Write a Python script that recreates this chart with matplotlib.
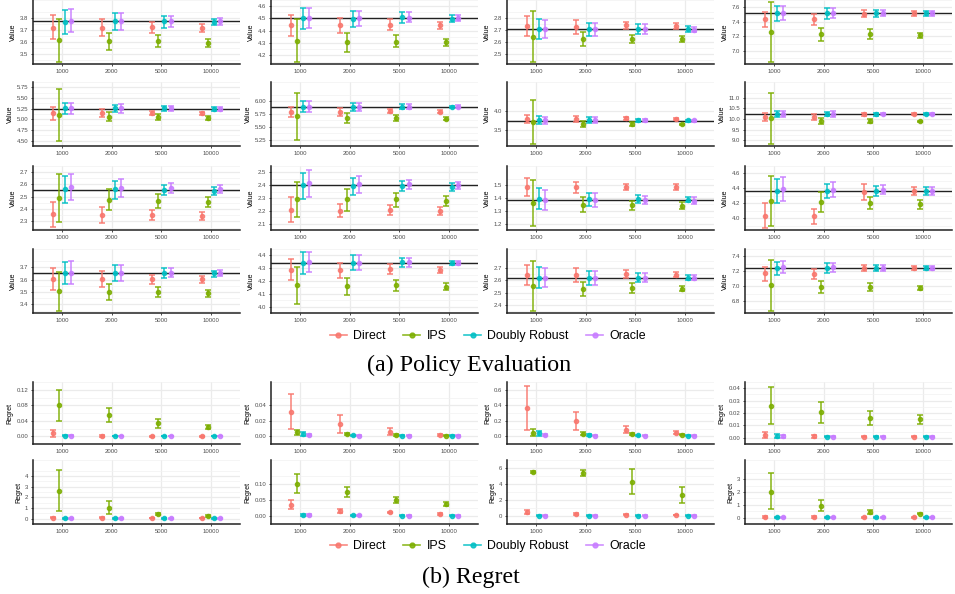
import numpy as np
import matplotlib
matplotlib.use("Agg")
import matplotlib.pyplot as plt
from matplotlib.lines import Line2D

plt.rcParams['font.family'] = ['Liberation Sans', 'DejaVu Sans']

# ---- data ----
sizes = ["1000", "2000", "5000", "10000"]
methods = ["Direct", "IPS", "Doubly Robust", "Oracle"]
colors = ["#F8766D", "#7CAE00", "#00BFC4", "#C77CFF"]

# (a) policy evaluation: true value per panel
true_values = [3.775, 4.5, 2.707, 7.516, 5.236, 5.895, 3.74, 10.23,
               2.554, 2.4, 1.384, 4.36, 3.653, 4.339, 2.62, 7.249]

# per panel: [Direct, IPS, DR, Oracle] x sizes
eval_mean = [
    [[3.722, 3.722, 3.727, 3.715], [3.617, 3.61, 3.61, 3.598], [3.77, 3.776, 3.776, 3.77], [3.776, 3.776, 3.776, 3.776]],
    [[4.45, 4.443, 4.45, 4.445], [4.32, 4.305, 4.31, 4.305], [4.5, 4.495, 4.508, 4.495], [4.505, 4.5, 4.505, 4.5]],
    [[2.731, 2.729, 2.74, 2.731], [2.645, 2.629, 2.629, 2.624], [2.707, 2.707, 2.712, 2.707], [2.707, 2.707, 2.707, 2.702]],
    [[7.437, 7.437, 7.507, 7.516], [7.26, 7.228, 7.228, 7.218], [7.516, 7.516, 7.516, 7.516], [7.516, 7.516, 7.516, 7.516]],
    [[5.153, 5.153, 5.153, 5.146], [5.11, 5.06, 5.05, 5.03], [5.257, 5.257, 5.257, 5.25], [5.257, 5.257, 5.257, 5.25]],
    [[5.79, 5.79, 5.80, 5.79], [5.707, 5.67, 5.67, 5.66], [5.895, 5.895, 5.895, 5.89], [5.895, 5.895, 5.895, 5.895]],
    [[3.792, 3.78, 3.805, 3.792], [3.708, 3.65, 3.65, 3.643], [3.747, 3.747, 3.747, 3.747], [3.747, 3.747, 3.747, 3.747]],
    [[10.095, 10.095, 10.23, 10.23], [10.03, 9.905, 9.905, 9.89], [10.23, 10.23, 10.23, 10.23], [10.24, 10.24, 10.24, 10.24]],
    [[2.358, 2.354, 2.354, 2.346], [2.488, 2.476, 2.468, 2.456], [2.561, 2.561, 2.556, 2.544], [2.58, 2.568, 2.568, 2.561]],
    [[2.209, 2.202, 2.205, 2.198], [2.289, 2.289, 2.289, 2.277], [2.4, 2.395, 2.395, 2.386], [2.414, 2.407, 2.407, 2.4]],
    [[1.489, 1.485, 1.489, 1.485], [1.363, 1.348, 1.344, 1.337], [1.394, 1.39, 1.39, 1.386], [1.386, 1.384, 1.384, 1.38]],
    [[4.032, 4.025, 4.349, 4.368], [4.23, 4.218, 4.202, 4.19], [4.36, 4.36, 4.36, 4.36], [4.396, 4.38, 4.38, 4.368]],
    [[3.607, 3.607, 3.603, 3.603], [3.508, 3.501, 3.501, 3.49], [3.655, 3.655, 3.655, 3.653], [3.659, 3.659, 3.659, 3.655]],
    [[4.288, 4.283, 4.293, 4.288], [4.171, 4.159, 4.166, 4.155], [4.342, 4.342, 4.346, 4.342], [4.346, 4.342, 4.346, 4.342]],
    [[2.645, 2.643, 2.65, 2.645], [2.552, 2.532, 2.536, 2.532], [2.62, 2.62, 2.62, 2.62], [2.62, 2.62, 2.62, 2.616]],
    [[7.175, 7.163, 7.249, 7.249], [7.016, 6.988, 6.988, 6.981], [7.249, 7.249, 7.249, 7.249], [7.261, 7.261, 7.249, 7.249]],
]
eval_lo = [
    [[3.63, 3.654, 3.68, 3.685], [3.44, 3.536, 3.56, 3.563], [3.67, 3.70, 3.722, 3.746], [3.683, 3.70, 3.727, 3.746]],
    [[4.36, 4.38, 4.408, 4.418], [4.145, 4.23, 4.268, 4.275], [4.413, 4.433, 4.463, 4.47], [4.425, 4.438, 4.47, 4.48]],
    [[2.648, 2.671, 2.707, 2.707], [2.433, 2.569, 2.593, 2.60], [2.624, 2.648, 2.671, 2.683], [2.633, 2.648, 2.671, 2.681]],
    [[7.33, 7.358, 7.46, 7.484], [6.846, 7.135, 7.158, 7.18], [7.414, 7.437, 7.47, 7.484], [7.428, 7.446, 7.474, 7.484]],
    [[4.993, 5.05, 5.1, 5.11], [4.49, 4.958, 4.98, 4.993], [5.132, 5.167, 5.188, 5.2], [5.118, 5.153, 5.188, 5.2]],
    [[5.686, 5.707, 5.76, 5.764], [5.25, 5.576, 5.607, 5.628], [5.785, 5.817, 5.853, 5.864], [5.79, 5.817, 5.843, 5.87]],
    [[3.68, 3.708, 3.76, 3.77], [3.13, 3.565, 3.61, 3.617], [3.643, 3.675, 3.708, 3.714], [3.65, 3.675, 3.708, 3.714]],
    [[9.905, 9.96, 10.16, 10.18], [8.82, 9.76, 9.82, 9.84], [10.095, 10.135, 10.16, 10.18], [10.095, 10.11, 10.18, 10.2]],
    [[2.251, 2.288, 2.312, 2.312], [2.293, 2.39, 2.41, 2.415], [2.451, 2.483, 2.517, 2.512], [2.471, 2.495, 2.532, 2.529]],
    [[2.114, 2.148, 2.17, 2.17], [2.148, 2.202, 2.227, 2.239], [2.293, 2.327, 2.357, 2.357], [2.311, 2.341, 2.373, 2.373]],
    [[1.418, 1.439, 1.464, 1.464], [1.185, 1.289, 1.31, 1.312], [1.312, 1.337, 1.358, 1.365], [1.31, 1.33, 1.354, 1.354]],
    [[3.866, 3.926, 4.238, 4.317], [3.894, 4.084, 4.119, 4.123], [4.198, 4.27, 4.297, 4.309], [4.23, 4.277, 4.329, 4.317]],
    [[3.517, 3.542, 3.565, 3.574], [3.35, 3.434, 3.461, 3.463], [3.562, 3.592, 3.614, 3.626], [3.569, 3.592, 3.619, 3.63]],
    [[4.211, 4.225, 4.253, 4.26], [4.019, 4.089, 4.12, 4.129], [4.253, 4.283, 4.307, 4.323], [4.269, 4.283, 4.311, 4.323]],
    [[2.564, 2.586, 2.62, 2.623], [2.35, 2.475, 2.498, 2.509], [2.536, 2.564, 2.586, 2.598], [2.541, 2.564, 2.582, 2.598]],
    [[7.078, 7.097, 7.21, 7.222], [6.669, 6.91, 6.938, 6.949], [7.156, 7.183, 7.21, 7.222], [7.175, 7.195, 7.21, 7.222]],
]
eval_hi = [
    [[3.824, 3.795, 3.77, 3.75], [3.79, 3.68, 3.66, 3.63], [3.866, 3.84, 3.82, 3.795], [3.873, 3.844, 3.82, 3.80]],
    [[4.53, 4.50, 4.493, 4.475], [4.493, 4.38, 4.363, 4.333], [4.588, 4.56, 4.55, 4.525], [4.588, 4.563, 4.55, 4.525]],
    [[2.814, 2.783, 2.771, 2.76], [2.855, 2.681, 2.664, 2.648], [2.795, 2.76, 2.752, 2.731], [2.783, 2.76, 2.748, 2.729]],
    [[7.53, 7.507, 7.563, 7.544], [7.67, 7.32, 7.298, 7.25], [7.614, 7.59, 7.567, 7.544], [7.623, 7.59, 7.567, 7.544]],
    [[5.285, 5.236, 5.2, 5.18], [5.72, 5.167, 5.118, 5.076], [5.375, 5.34, 5.32, 5.285], [5.39, 5.354, 5.306, 5.285]],
    [[5.895, 5.864, 5.853, 5.827], [6.167, 5.76, 5.738, 5.696], [6.0, 5.969, 5.948, 5.916], [6.01, 5.969, 5.942, 5.92]],
    [[3.89, 3.857, 3.838, 3.81], [4.28, 3.74, 3.695, 3.66], [3.857, 3.825, 3.79, 3.77], [3.844, 3.825, 3.79, 3.77]],
    [[10.3, 10.23, 10.3, 10.27], [11.24, 10.07, 10.0, 9.93], [10.38, 10.34, 10.3, 10.27], [10.4, 10.36, 10.3, 10.27]],
    [[2.458, 2.42, 2.395, 2.378], [2.683, 2.56, 2.524, 2.495], [2.666, 2.627, 2.593, 2.58], [2.683, 2.646, 2.61, 2.598]],
    [[2.305, 2.255, 2.243, 2.227], [2.425, 2.373, 2.34, 2.316], [2.498, 2.459, 2.432, 2.418], [2.516, 2.47, 2.443, 2.425]],
    [[1.559, 1.527, 1.513, 1.506], [1.538, 1.405, 1.375, 1.365], [1.475, 1.439, 1.42, 1.411], [1.464, 1.437, 1.415, 1.405]],
    [[4.198, 4.123, 4.455, 4.42], [4.566, 4.349, 4.289, 4.242], [4.526, 4.455, 4.428, 4.42], [4.554, 4.487, 4.44, 4.42]],
    [[3.698, 3.671, 3.641, 3.63], [3.664, 3.569, 3.542, 3.519], [3.743, 3.716, 3.693, 3.675], [3.75, 3.72, 3.693, 3.677]],
    [[4.374, 4.342, 4.335, 4.311], [4.311, 4.225, 4.211, 4.183], [4.428, 4.4, 4.377, 4.358], [4.428, 4.4, 4.377, 4.358]],
    [[2.725, 2.695, 2.684, 2.668], [2.752, 2.586, 2.575, 2.555], [2.702, 2.673, 2.661, 2.645], [2.695, 2.673, 2.657, 2.639]],
    [[7.261, 7.233, 7.292, 7.272], [7.358, 7.074, 7.047, 7.008], [7.331, 7.311, 7.292, 7.272], [7.346, 7.319, 7.292, 7.272]],
]

# (b) regret
regret_mean = [
    [[0.0075, 0.0015, 0.0, 0.0], [0.08, 0.055, 0.033, 0.025], [0.0015, 0.0, 0.0, 0.0], [0.001, 0.0005, 0.0005, 0.0005]],
    [[0.031, 0.0154, 0.0056, 0.0016], [0.005, 0.0026, 0.0016, 0.0007], [0.0026, 0.0012, 0.0008, 0.0007], [0.0016, 0.0008, 0.0008, 0.0007]],
    [[0.364, 0.198, 0.087, 0.047], [0.047, 0.032, 0.024, 0.02], [0.04, 0.02, 0.012, 0.008], [0.012, 0.008, 0.008, 0.008]],
    [[0.002, 0.0012, 0.0008, 0.0008], [0.0258, 0.0208, 0.016, 0.015], [0.0015, 0.0007, 0.0007, 0.0007], [0.0012, 0.0007, 0.0007, 0.0007]],
    [[0.1, 0.08, 0.05, 0.05], [2.6, 1.0, 0.42, 0.22], [0.02, 0.02, 0.02, 0.02], [0.02, 0.02, 0.02, 0.02]],
    [[0.035, 0.016, 0.011, 0.006], [0.10, 0.075, 0.05, 0.037], [0.004, 0.002, 0.0015, 0.0012], [0.003, 0.002, 0.0015, 0.0012]],
    [[0.5, 0.25, 0.15, 0.12], [5.5, 5.4, 4.3, 2.6], [0.05, 0.05, 0.05, 0.05], [0.05, 0.05, 0.05, 0.05]],
    [[0.06, 0.05, 0.04, 0.04], [2.0, 0.9, 0.45, 0.3], [0.02, 0.02, 0.02, 0.02], [0.02, 0.02, 0.02, 0.02]],
]
regret_lo = [
    [[-0.002, -0.001, -0.001, -0.001], [0.04, 0.037, 0.022, 0.019], [0.0, -0.0005, -0.0005, -0.0005], [0.0, 0.0, 0.0, 0.0]],
    [[0.009, 0.004, 0.001, 0.0007], [0.001, 0.001, 0.0008, 0.0003], [0.0007, 0.0005, 0.0004, 0.0003], [0.0, 0.0004, 0.0004, 0.0003]],
    [[0.079, 0.079, 0.04, 0.028], [0.0, 0.012, 0.012, 0.012], [0.0, 0.008, 0.006, 0.004], [0.0, 0.004, 0.004, 0.004]],
    [[-0.0005, 0.0, 0.0004, 0.0004], [0.011, 0.012, 0.0103, 0.011], [0.0, 0.0003, 0.0003, 0.0003], [0.0, 0.0003, 0.0003, 0.0003]],
    [[0.02, 0.02, 0.02, 0.02], [0.7, 0.4, 0.3, 0.15], [0.0, 0.0, 0.0, 0.0], [0.0, 0.0, 0.0, 0.0]],
    [[0.022, 0.009, 0.008, 0.004], [0.072, 0.06, 0.04, 0.031], [0.001, 0.0005, 0.0005, 0.0005], [0.0005, 0.0005, 0.0005, 0.0005]],
    [[0.2, 0.15, 0.08, 0.08], [5.35, 5.05, 2.8, 1.6], [0.0, 0.0, 0.0, 0.0], [0.0, 0.0, 0.0, 0.0]],
    [[0.0, 0.0, 0.0, 0.0], [0.7, 0.5, 0.3, 0.25], [0.0, 0.0, 0.0, 0.0], [0.0, 0.0, 0.0, 0.0]],
]
regret_hi = [
    [[0.0165, 0.004, 0.001, 0.001], [0.12, 0.073, 0.044, 0.03], [0.004, 0.001, 0.001, 0.001], [0.002, 0.001, 0.001, 0.001]],
    [[0.054, 0.027, 0.0105, 0.003], [0.008, 0.004, 0.0024, 0.0011], [0.005, 0.002, 0.0012, 0.0011], [0.003, 0.0012, 0.0012, 0.0011]],
    [[0.652, 0.316, 0.138, 0.067], [0.09, 0.059, 0.04, 0.028], [0.071, 0.032, 0.018, 0.012], [0.024, 0.012, 0.012, 0.012]],
    [[0.0045, 0.0025, 0.0012, 0.0012], [0.041, 0.029, 0.0215, 0.018], [0.003, 0.0011, 0.0011, 0.0011], [0.0025, 0.0011, 0.0011, 0.0011]],
    [[0.18, 0.14, 0.08, 0.08], [4.6, 1.7, 0.55, 0.3], [0.05, 0.05, 0.05, 0.05], [0.05, 0.05, 0.05, 0.05]],
    [[0.049, 0.022, 0.014, 0.008], [0.13, 0.09, 0.06, 0.043], [0.007, 0.0035, 0.0025, 0.002], [0.005, 0.003, 0.0025, 0.002]],
    [[0.8, 0.35, 0.22, 0.16], [5.65, 5.8, 5.9, 3.6], [0.1, 0.1, 0.1, 0.1], [0.1, 0.1, 0.1, 0.1]],
    [[0.12, 0.1, 0.08, 0.08], [3.5, 1.4, 0.6, 0.35], [0.05, 0.05, 0.05, 0.05], [0.05, 0.05, 0.05, 0.05]],
]

# axis ranges and ticks (layout)
eval_ylim = [(3.42, 3.885), (4.13, 4.61), (2.42, 2.87), (6.82, 7.69),
             (4.44, 5.80), (5.19, 6.22), (3.08, 4.34), (8.73, 11.36),
             (2.23, 2.707), (2.1, 2.54), (1.168, 1.58), (3.84, 4.6),
             (3.33, 3.76), (3.996, 4.44), (2.336, 2.764), (6.646, 7.39)]
eval_ticks = [np.arange(3.5, 3.85, 0.1), np.arange(4.2, 4.65, 0.1), np.arange(2.5, 2.85, 0.1), np.arange(7.0, 7.65, 0.2),
              np.arange(4.5, 5.8, 0.25), np.arange(5.25, 6.05, 0.25), [3.5, 4.0], np.arange(9.0, 11.05, 0.5),
              np.arange(2.3, 2.75, 0.1), np.arange(2.1, 2.55, 0.1), np.arange(1.2, 1.55, 0.1), np.arange(4.0, 4.65, 0.2),
              np.arange(3.4, 3.75, 0.1), np.arange(4.0, 4.45, 0.1), np.arange(2.4, 2.75, 0.1), np.arange(6.8, 7.45, 0.2)]
eval_fmt = ["%.1f"] * 4 + ["%.2f", "%.2f", "%.1f", "%.1f"] + ["%.1f"] * 8
regret_ylim = [(-0.01, 0.1275), (-0.003, 0.0567), (-0.04, 0.68), (-0.003, 0.0428),
               (-0.3, 4.9), (-0.012, 0.138), (-0.4, 6.4), (-0.2, 3.8)]
regret_ticks = [[0, 0.04, 0.08, 0.12], [0, 0.02, 0.04], [0, 0.2, 0.4, 0.6], [0, 0.01, 0.02, 0.03, 0.04],
                [0, 1, 2, 3, 4], [0, 0.05, 0.10], [0, 2, 4, 6], [0, 1, 2, 3]]
regret_fmt = ["%.2f", "%.2f", "%.1f", "%.2f", "%d", "%.2f", "%d", "%d"]

W, H = 955, 594
fig = plt.figure(figsize=(W / 100, H / 100), dpi=100)

col_left = [33, 271, 507, 745]
panel_w = 207
offsets = [-0.1875, -0.0625, 0.0625, 0.1875]
xpos = np.arange(len(sizes))


def make_ax(left, top, height):
    return fig.add_axes([left / W, 1 - (top + height) / H, panel_w / W, height / H])


def draw_panel(ax, mean, lo, hi, ylim, ticks, fmt, ylabel, truth=None):
    ax.set_xlim(-0.58, 3.58)
    ax.set_ylim(*ylim)
    ax.set_yticks(ticks)
    ax.set_yticklabels([fmt % t for t in ticks])
    ax.set_xticks(xpos)
    ax.set_xticklabels(sizes)
    # minor gridlines halfway between majors
    t = np.asarray(ticks, dtype=float)
    step = t[1] - t[0]
    minors = np.arange(t[0] - step / 2, ylim[1] + step, step)
    ax.set_yticks(minors, minor=True)
    ax.grid(True, which='major', color='#EBEBEB', lw=0.9)
    ax.grid(True, which='minor', axis='y', color='#F2F2F2', lw=0.5)
    ax.set_axisbelow(True)
    for s in ['top', 'right']:
        ax.spines[s].set_visible(False)
    for s in ['left', 'bottom']:
        ax.spines[s].set_color('#222222')
        ax.spines[s].set_linewidth(1.1)
    ax.tick_params(axis='both', which='major', labelsize=4.3, labelcolor='#4D4D4D',
                   length=1.5, width=0.5, pad=2)
    ax.tick_params(axis='both', which='minor', length=0)
    ax.set_ylabel(ylabel, fontsize=5, labelpad=2)
    if truth is not None:
        ax.axhline(truth, color='#222222', lw=1.0, zorder=1.5)
    for m in range(len(methods)):
        mu = np.array(mean[m])
        err = [mu - np.array(lo[m]), np.array(hi[m]) - mu]
        ax.errorbar(xpos + offsets[m], mu, yerr=err, fmt='o', color=colors[m],
                    ms=3, capsize=2.4, elinewidth=1.2, capthick=1.2, alpha=0.85, zorder=3)


# (a) policy evaluation
row_top_a = [0, 82, 166, 249]
for i in range(16):
    r, c = divmod(i, 4)
    ax = make_ax(col_left[c], row_top_a[r], 64)
    draw_panel(ax, eval_mean[i], eval_lo[i], eval_hi[i], eval_ylim[i],
               eval_ticks[i], eval_fmt[i], "Value", true_values[i])

# (b) regret
row_top_b = [382, 460]
for i in range(8):
    r, c = divmod(i, 4)
    ax = make_ax(col_left[c], row_top_b[r], 62 if r == 0 else 64)
    draw_panel(ax, regret_mean[i], regret_lo[i], regret_hi[i], regret_ylim[i],
               regret_ticks[i], regret_fmt[i], "Regret")

handles = [Line2D([], [], color=c, marker='o', ms=3.5, lw=1.2, alpha=0.85) for c in colors]
for ycen in [336, 546]:
    fig.legend(handles, methods, loc='center', bbox_to_anchor=(488 / W, 1 - ycen / H),
               ncol=4, frameon=False, fontsize=8.9, handlelength=1.4,
               handletextpad=0.5, columnspacing=1.4)

fig.text(469 / W, 1 - 365 / H, "(a) Policy Evaluation", ha='center', va='center',
         family='Liberation Serif', fontsize=17.3)
fig.text(471 / W, 1 - 577 / H, "(b) Regret", ha='center', va='center',
         family='Liberation Serif', fontsize=17.3)

fig.savefig("out.png", dpi=100)
